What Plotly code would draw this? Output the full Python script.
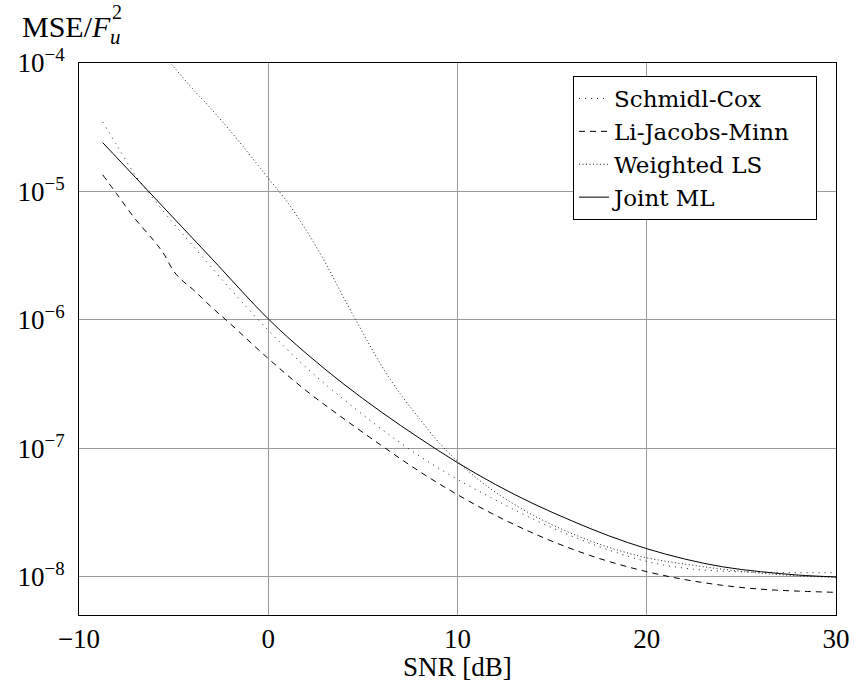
import plotly.graph_objects as go

# ---- data ----
snr_ml = [-8.75, -7, -5, -3, 0, 2, 4, 6, 8, 10, 12, 14, 16, 18, 20, 22, 24, 26, 28, 30]
mse_ml = [2.40e-5, 1.28e-5, 6.21e-6, 3.02e-6, 1.02e-6, 5.50e-7, 3.16e-7, 1.91e-7, 1.20e-7,
          7.76e-8, 5.25e-8, 3.72e-8, 2.75e-8, 2.09e-8, 1.66e-8, 1.38e-8, 1.20e-8, 1.10e-8,
          1.035e-8, 1.00e-8]

snr_ljm = [-8.75, -8, -7, -6, -5.5, -5, -4.5, -4, -3, -2, 0, 2, 4, 6, 8, 10, 12, 14, 16, 18,
           20, 22, 24, 26, 28, 30]
mse_ljm = [1.35e-5, 9.55e-6, 6.03e-6, 4.07e-6, 3.24e-6, 2.40e-6, 2.00e-6, 1.74e-6, 1.26e-6,
           9.33e-7, 5.01e-7, 2.82e-7, 1.70e-7, 1.05e-7, 6.61e-8, 4.37e-8, 3.02e-8, 2.19e-8,
           1.66e-8, 1.32e-8, 1.10e-8, 9.55e-9, 8.61e-9, 8.04e-9, 7.76e-9, 7.59e-9]

snr_sc = [-8.75, -8, -7, -6, -5, -4, -2, 0, 2, 4, 6, 8, 10, 12, 14, 16, 18, 20, 22, 24, 26, 28, 30]
mse_sc = [3.47e-5, 2.29e-5, 1.32e-5, 8.51e-6, 5.62e-6, 3.80e-6, 1.74e-6, 8.32e-7, 4.27e-7,
          2.40e-7, 1.41e-7, 8.71e-8, 5.75e-8, 3.98e-8, 2.82e-8, 2.09e-8, 1.62e-8, 1.32e-8,
          1.17e-8, 1.11e-8, 1.09e-8, 1.08e-8, 1.08e-8]

snr_wls = [-6, -5, -4, -3, -2, -1, 0, 1, 2, 3, 4, 5, 6, 7, 8, 9, 10, 11, 12, 14, 16, 18, 20,
           22, 24, 26, 28, 30]
mse_wls = [1.35e-4, 9.33e-5, 6.31e-5, 4.37e-5, 2.95e-5, 1.95e-5, 1.27e-5, 8.32e-6, 5.01e-6,
           2.82e-6, 1.48e-6, 7.94e-7, 4.37e-7, 2.63e-7, 1.70e-7, 1.12e-7, 7.94e-8, 5.89e-8,
           4.57e-8, 3.02e-8, 2.19e-8, 1.70e-8, 1.41e-8, 1.26e-8, 1.15e-8, 1.07e-8, 1.02e-8,
           9.89e-9]

series_names = ["Schmidl-Cox", "Li-Jacobs-Minn", "Weighted LS", "Joint ML"]

x_ticks = [-10, 0, 10, 20, 30]
x_ticktext = ["\u221210", "0", "10", "20", "30"]
y_ticks = [1e-8, 1e-7, 1e-6, 1e-5, 1e-4]
y_ticktext = ["10<sup>\u22128</sup>", "10<sup>\u22127</sup>", "10<sup>\u22126</sup>",
              "10<sup>\u22125</sup>", "10<sup>\u22124</sup>"]

FONT = "Liberation Serif"
LFONT = "DejaVu Serif"
FS = 27
PAD = "\u00a0\u00a0\u00a0"  # right padding inside the legend box

L, R, T, B = 79, 836, 63, 615
PW, PH = R - L, B - T

fig = go.Figure()
fig.add_trace(go.Scatter(x=snr_sc, y=mse_sc, mode="lines", name=series_names[0] + PAD,
                         line=dict(color="#222", width=1, dash="1px,5px", shape="spline")))
fig.add_trace(go.Scatter(x=snr_ljm, y=mse_ljm, mode="lines", name=series_names[1] + PAD,
                         line=dict(color="black", width=1, dash="6px,5px", shape="spline")))
fig.add_trace(go.Scatter(x=snr_wls, y=mse_wls, mode="lines", name=series_names[2] + PAD,
                         line=dict(color="#222", width=1, dash="1px,2.5px", shape="spline")))
fig.add_trace(go.Scatter(x=snr_ml, y=mse_ml, mode="lines", name=series_names[3] + PAD,
                         line=dict(color="black", width=1, shape="spline")))

fig.update_layout(
    width=854, height=693,
    margin=dict(l=L, r=854 - R, t=T, b=693 - B, autoexpand=False),
    paper_bgcolor="white", plot_bgcolor="white",
    font=dict(family=FONT, size=FS, color="black"),
    showlegend=True,
    legend=dict(x=(817 - L) / PW, xanchor="right", y=(B - 76) / PH, yanchor="top",
                bgcolor="white", bordercolor="black", borderwidth=1,
                font=dict(family=LFONT, size=23), tracegroupgap=0, itemwidth=30),
)
fig.update_xaxes(range=[-10, 30], tickvals=x_ticks, ticktext=x_ticktext, automargin=False,
                 showgrid=True, gridcolor="#9a9a9a", gridwidth=1,
                 showline=True, linecolor="black", linewidth=1, mirror=True,
                 ticks="", zeroline=False, ticklabelstandoff=0,
                 tickfont=dict(family=FONT, size=FS))
fig.update_yaxes(type="log", range=[-8.296, -4], tickvals=y_ticks, ticktext=y_ticktext,
                 automargin=False,
                 showgrid=True, gridcolor="#9a9a9a", gridwidth=1,
                 showline=True, linecolor="black", linewidth=1, mirror=True,
                 ticks="", zeroline=False, ticklabelstandoff=8,
                 tickfont=dict(family=FONT, size=FS))

# x-axis title
fig.add_annotation(text="SNR [dB]", xref="paper", yref="paper",
                   x=0.5, y=(B - 667) / PH, xanchor="center", yanchor="middle",
                   showarrow=False, font=dict(family=FONT, size=FS))
# y-axis title  MSE/F_u^2
fig.add_annotation(text="MSE/<i>F</i>", xref="paper", yref="paper",
                   x=(20 - L) / PW, y=(B - 27) / PH, xanchor="left", yanchor="middle",
                   showarrow=False, font=dict(family=FONT, size=30))
fig.add_annotation(text="2", xref="paper", yref="paper",
                   x=(110 - L) / PW, y=(B - 12) / PH, xanchor="left", yanchor="middle",
                   showarrow=False, font=dict(family=FONT, size=20))
fig.add_annotation(text="<i>u</i>", xref="paper", yref="paper",
                   x=(108 - L) / PW, y=(B - 37) / PH, xanchor="left", yanchor="middle",
                   showarrow=False, font=dict(family=FONT, size=21))

fig.write_html("out.html")
